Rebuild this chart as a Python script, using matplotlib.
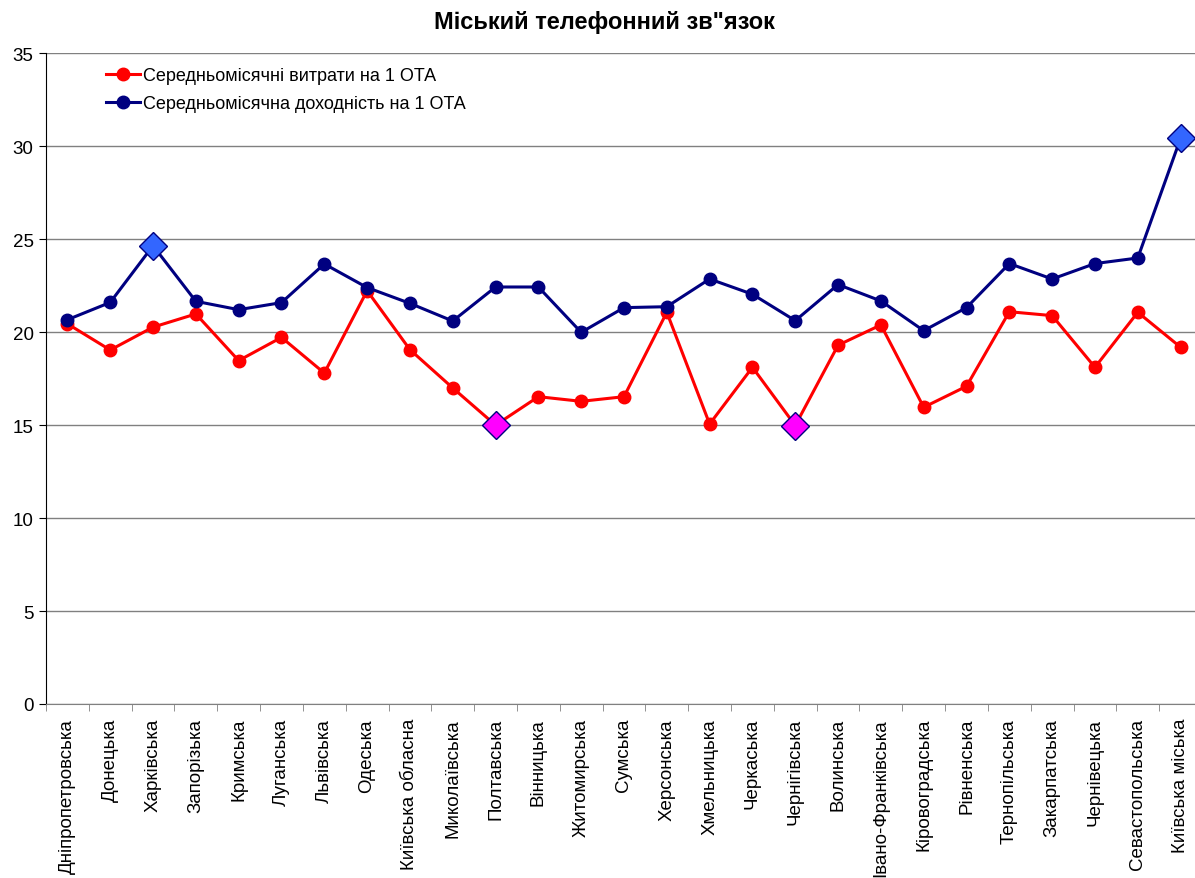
import numpy as np
import matplotlib
matplotlib.use('Agg')
import matplotlib.pyplot as plt

plt.rcParams['font.family'] = ['Liberation Sans', 'DejaVu Sans']

regions = ["Дніпропетровська", "Донецька", "Харківська", "Запорізька", "Кримська",
           "Луганська", "Львівська", "Одеська", "Київська обласна", "Миколаївська",
           "Полтавська", "Вінницька", "Житомирська", "Сумська", "Херсонська",
           "Хмельницька", "Черкаська", "Чернігівська", "Волинська", "Івано-Франківська",
           "Кіровоградська", "Рівненська", "Тернопільська", "Закарпатська", "Чернівецька",
           "Севастопольська", "Київська міська"]

expenses = [20.45, 19.04, 20.27, 20.98, 18.47, 19.72, 17.8, 22.23, 19.06, 17.0,
            15.0, 16.53, 16.28, 16.53, 21.07, 15.06, 18.11, 14.98, 19.3, 20.39,
            15.96, 17.09, 21.1, 20.89, 18.11, 21.07, 19.19]
revenue = [20.67, 21.6, 24.65, 21.66, 21.21, 21.59, 23.67, 22.4, 21.55, 20.6,
           22.43, 22.43, 19.99, 21.32, 21.37, 22.86, 22.04, 20.62, 22.56, 21.68,
           20.08, 21.32, 23.69, 22.86, 23.69, 23.99, 30.43]

# highlighted points (indices)
expenses_min = [10, 17]
revenue_max = [2, 26]

x = np.arange(len(regions))

fig = plt.figure(figsize=(11.95, 8.79), dpi=100)
ax = fig.add_axes([46/1195, 174/879, 1156/1195, 650.7/879])

ax.plot(x, expenses, color='#FF0000', lw=2.2, marker='o', ms=9,
        label="Середньомісячні витрати на 1 ОТА", zorder=3)
ax.plot(x, revenue, color='#000080', lw=2.2, marker='o', ms=9,
        label="Середньомісячна доходність на 1 ОТА", zorder=3)
ax.plot(x[expenses_min], np.array(expenses)[expenses_min], ls='none', marker='D', ms=14,
        mfc='#FF00FF', mec='#000080', mew=1, zorder=4)
ax.plot(x[revenue_max], np.array(revenue)[revenue_max], ls='none', marker='D', ms=14,
        mfc='#3366FF', mec='#000080', mew=1, zorder=4)

ax.set_xlim(-0.5, len(regions) - 0.5)
ax.set_ylim(0, 35)
ax.set_yticks(np.arange(0, 36, 5))
ax.yaxis.grid(True, color='#808080', lw=1)
ax.set_axisbelow(True)

ax.set_xticks(x)
ax.set_xticklabels(regions, rotation=90, fontsize=13.5)
ax.set_xticks(np.arange(-0.5, len(regions)), minor=True)
ax.tick_params(axis='x', which='major', length=0, pad=10)
ax.tick_params(axis='x', which='minor', length=5, color='#808080')
ax.tick_params(axis='y', length=5, labelsize=13.5, pad=4)

for s in ['top', 'right']:
    ax.spines[s].set_visible(False)
ax.spines['bottom'].set_color('#808080')
ax.spines['left'].set_color('black')

ax.legend(loc='upper left', bbox_to_anchor=(0.038, 1.004), frameon=False,
          fontsize=13, handlelength=1.9, handletextpad=0.15, labelspacing=0.62)

fig.text(0.506, 0.974, 'Міський телефонний зв"язок', ha='center', va='center',
         fontsize=17, fontweight='bold')

fig.savefig('out.png', dpi=100)
